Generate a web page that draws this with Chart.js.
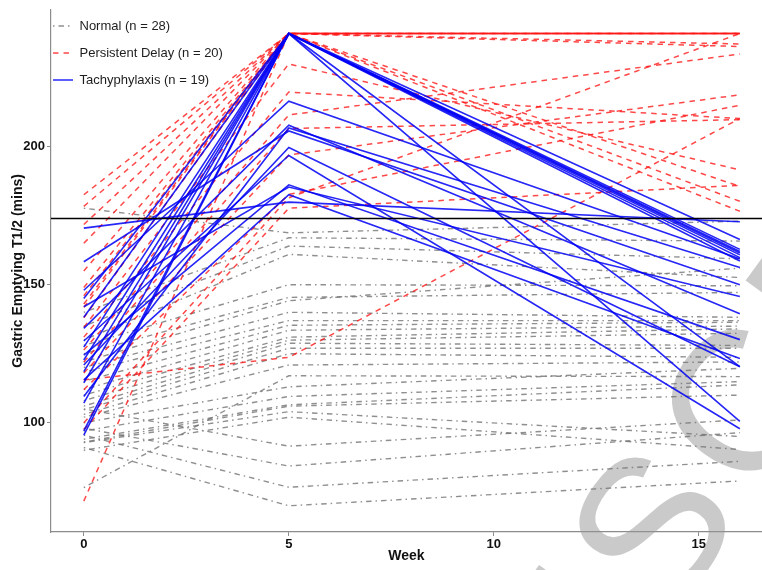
<!DOCTYPE html>
<html>
<head>
<meta charset="utf-8">
<script src="https://cdn.jsdelivr.net/npm/chart.js@4/dist/chart.umd.min.js"></script>
<style>
  html, body { margin: 0; padding: 0; background: #ffffff; overflow: hidden; }
  #wrap { width: 762px; height: 570px; position: relative; }
</style>
</head>
<body>
<div id="wrap"><canvas id="c" width="762" height="570"></canvas></div>
<script>
// ---- data ----
const weeks = [0, 5, 16];

// Normal (n = 28): gastric emptying T1/2 at week 0, 5, 16
const normalWk0  = [177.7, 140, 135, 130, 128, 125, 122, 120, 118.3, 115, 112, 110, 108, 106, 104.7, 103, 102, 100, 76.5, 97, 94, 93, 92.8, 90, 105, 98, 95.5, 91];
const normalWk5  = [168.8, 167, 164, 161, 150, 145.4, 144.2, 140, 137, 135.3, 133.5, 131, 129.9, 128.8, 127, 125, 120.9, 113, 117, 109.5, 106.5, 106, 104, 102, 91.5, 84.3, 76.6, 69.9];
const normalWk16 = [173, 165.8, 159.4, 152.6, 149.6, 147.2, 156, 138.2, 137, 136.4, 135, 134, 132.4, 128, 127, 123.7, 122, 119.7, 116.7, 114.9, 113.7, 110, 95, 90.3, 101, 96.4, 86, 78.9];

// Persistent Delay (n = 20)
const delayWk0  = [182.6, 178.4, 171.8, 165.0, 155.0, 149.0, 146.0, 143.0, 141.8, 138.0, 134.6, 131.0, 126.3, 122.0, 118.0, 112.0, 115.5, 100.0, 97.5, 71.6];
const delayWk5  = [241, 241, 241, 241, 241, 241, 241, 241, 241, 241, 230.0, 219.8, 211.5, 206.6, 197.0, 182.7, 123.7, 181.5, 177.7, 241];
const delayWk16 = [241, 241, 237.2, 241, 236.3, 241, 180.2, 176.6, 185.6, 241, 191.6, 210.2, 233.6, 209.8, 218.8, 215.0, 210.2, 241, 186.0, 241];

// Tachyphylaxis (n = 19)
const tachyWk0  = [170.5, 158.3, 148.0, 145.0, 142.0, 138.2, 134.2, 129.6, 127.4, 124.5, 122.7, 120.9, 118.5, 115.5, 114.4, 109.5, 107.1, 97.0, 95.5];
const tachyWk5  = [179.9, 205.7, 216.5, 241, 185.4, 241, 207.8, 196.8, 241, 186.2, 241, 199.7, 241, 182.6, 241, 206.8, 241, 241, 241];
const tachyWk16 = [172.8, 150.0, 159.4, 166.4, 145.7, 162.8, 139.5, 97.8, 162.0, 130.1, 161.5, 120.3, 160.8, 123.3, 159.8, 156.2, 158.6, 100.5, 120.3];

const thresholdValue = 174;
const yTicks = [100, 150, 200];
const xTicks = [0, 5, 10, 15];
const groupLabels = ['Normal (n = 28)', 'Persistent Delay (n = 20)', 'Tachyphylaxis (n = 19)'];
const xTitle = 'Week';
const yTitle = 'Gastric Emptying T1/2 (mins)';
const watermarkText = 'ACCEPTED MANUSCRIPT';

// ---- styles ----
const FONT = '"Liberation Sans", Arial, Helvetica, sans-serif';
const styles = {
  normal: { color: 'rgba(115,115,115,0.8)', width: 1.4, dash: [1.5, 4, 5.5, 4] },
  delay:  { color: 'rgba(255,20,20,0.78)', width: 1.5, dash: [5.5, 5] },
  tachy:  { color: 'rgba(0,0,245,0.85)', width: 1.6, dash: [] }
};

function buildGroup(w0, w5, w16, st) {
  return w0.map((v, i) => ({
    data: [ {x: weeks[0], y: w0[i]}, {x: weeks[1], y: w5[i]}, {x: weeks[2], y: w16[i]} ],
    borderColor: st.color,
    borderWidth: st.width,
    borderDash: st.dash,
    pointRadius: 0,
    tension: 0,
    fill: false
  }));
}

const datasets = [];
// threshold line (drawn on top)
datasets.push({
  data: [{x: -0.8, y: thresholdValue}, {x: 16.6, y: thresholdValue}],
  borderColor: '#000000', borderWidth: 1.6, pointRadius: 0, fill: false
});
datasets.push(...buildGroup(tachyWk0, tachyWk5, tachyWk16, styles.tachy));
datasets.push(...buildGroup(delayWk0, delayWk5, delayWk16, styles.delay));
datasets.push(...buildGroup(normalWk0, normalWk5, normalWk16, styles.normal));

const watermark = {
  id: 'watermark',
  beforeDatasetsDraw(chart) {
    const ctx = chart.ctx;
    ctx.save();
    ctx.font = '200px ' + FONT;
    const spacing = 14;
    if ('letterSpacing' in ctx) ctx.letterSpacing = spacing + 'px';
    ctx.fillStyle = 'rgba(150,150,150,0.5)';
    ctx.translate(752, 412);
    ctx.rotate(-54 * Math.PI / 180);
    const pre = ctx.measureText('ACCEPTED MANUS').width;
    const wc = ctx.measureText('C').width;
    ctx.textBaseline = 'middle';
    ctx.fillText(watermarkText, -(pre + (wc - spacing) / 2), 0);
    ctx.restore();
  }
};

new Chart(document.getElementById('c'), {
  type: 'line',
  data: { datasets },
  plugins: [watermark],
  options: {
    responsive: false,
    animation: false,
    devicePixelRatio: 1,
    events: [],
    layout: { padding: { left: 0, right: 0, top: 7, bottom: 0 } },
    plugins: {
      tooltip: { enabled: false },
      legend: {
        position: 'chartArea',
        align: 'start',
        title: { display: true, text: '', padding: 0, font: { size: 8, lineHeight: '17.5px' } },
        labels: {
          usePointStyle: true,
          pointStyleWidth: 20,
          padding: 2,
          color: '#1e1e1e',
          font: { family: FONT, size: 13, lineHeight: '25px' },
          generateLabels() {
            const st = [styles.normal, styles.delay, styles.tachy];
            return groupLabels.map((t, i) => ({
              text: [t],
              fontColor: '#1e1e1e',
              strokeStyle: st[i].color,
              fillStyle: 'rgba(0,0,0,0)',
              lineWidth: st[i].width,
              lineDash: st[i].dash,
              pointStyle: 'line',
              hidden: false,
              datasetIndex: i
            }));
          }
        }
      }
    },
    scales: {
      x: {
        type: 'linear',
        min: -0.8,
        max: 16.54,
        afterFit(scale) { scale.height = 38; },
        afterBuildTicks(scale) { scale.ticks = xTicks.map(v => ({ value: v })); },
        grid: { display: true, drawOnChartArea: false, drawTicks: true, tickLength: 4, color: '#8c8c8c', lineWidth: 1 },
        border: { display: true, color: '#8c8c8c', width: 1.2 },
        ticks: { color: '#111', padding: 1, font: { family: FONT, size: 13, weight: 'bold' }, maxRotation: 0 },
        title: { display: true, text: xTitle, color: '#111', padding: { top: 0, bottom: 5.5 }, font: { family: FONT, size: 14, weight: 'bold' } }
      },
      y: {
        type: 'linear',
        min: 60.4,
        max: 249.6,
        afterFit(scale) { scale.width = 51; },
        afterBuildTicks(scale) { scale.ticks = yTicks.map(v => ({ value: v })); },
        grid: { display: true, drawOnChartArea: false, drawTicks: true, tickLength: 4, color: '#8c8c8c', lineWidth: 1 },
        border: { display: true, color: '#8c8c8c', width: 1.2 },
        ticks: { color: '#111', padding: 2, font: { family: FONT, size: 13, weight: 'bold' } },
        title: { display: true, text: yTitle, color: '#111', padding: { top: 10, bottom: 0 }, font: { family: FONT, size: 14, weight: 'bold' } }
      }
    }
  }
});
</script>
</body>
</html>
